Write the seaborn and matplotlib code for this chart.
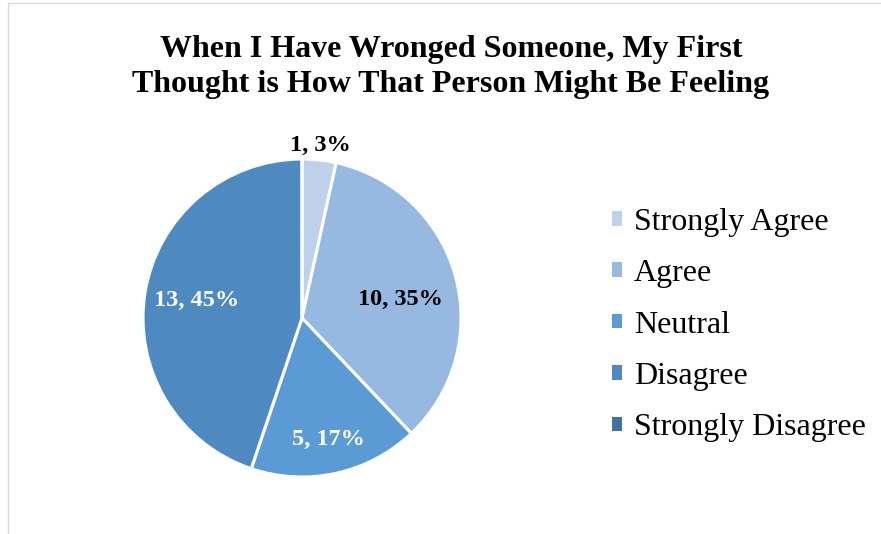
import numpy as np
import matplotlib
matplotlib.use("Agg")
import matplotlib.pyplot as plt
from matplotlib.patches import Patch, Rectangle
import seaborn as sns

# Survey responses
categories = ["Strongly Agree", "Agree", "Neutral", "Disagree", "Strongly Disagree"]
counts = [1, 10, 5, 13, 0]
title = "When I Have Wronged Someone, My First\nThought is How That Person Might Be Feeling"

sns.set_theme(style="white")
plt.rcParams["font.family"] = ["Liberation Serif", "DejaVu Serif"]
plt.rcParams["text.color"] = "black"

colors = ["#BDD1EA", "#97B8E0", "#5B9BD5", "#4E8ABF", "#41719C"]


def largest_remainder_percent(vals):
    vals = np.asarray(vals, dtype=float)
    raw = vals / vals.sum() * 100
    base = np.floor(raw).astype(int)
    short = 100 - base.sum()
    order = np.argsort(-(raw - base))
    for i in order[:short]:
        base[i] += 1
    return base


pcts = largest_remainder_percent(counts)

W, H = 881, 534
fig = plt.figure(figsize=(W / 100, H / 100), dpi=100)
fig.patch.set_facecolor("white")

# chart-area outline
fig.add_artist(Rectangle((8 / W, -0.1), 1.2, 1 - 3 / H + 0.1, transform=fig.transFigure,
                         fill=False, edgecolor="#D9D9D9", linewidth=1.0))

cx, cy, r = 302, 318, 159
ax = fig.add_axes([(cx - r) / W, (H - cy - r) / H, 2 * r / W, 2 * r / H])
wedges, _ = ax.pie(counts, colors=colors, startangle=90, counterclock=False, radius=1,
                   wedgeprops=dict(edgecolor="white", linewidth=2.2))
ax.set_xlim(-1, 1)
ax.set_ylim(-1, 1)
ax.set_aspect("equal")
ax.axis("off")

# data labels: "count, percent" (radius and angle nudge per slice)
label_radius = [1.09, 0.63, 0.78, 0.67, 0.7]
label_turn = [0, -5, 0, 0, 0]
label_color = ["black", "black", "white", "white", "white"]
for w, n, p, lr, lt, lc in zip(wedges, counts, pcts, label_radius, label_turn, label_color):
    if n == 0:
        continue
    ang = np.deg2rad((w.theta1 + w.theta2) / 2 + lt)
    ax.text(lr * np.cos(ang), lr * np.sin(ang), f"{n}, {p}%", ha="center", va="center",
            fontsize=17.5, fontweight="bold", color=lc)

fig.text(451 / W, 1 - 67 / H, title, ha="center", va="center", fontsize=23,
         fontweight="bold", linespacing=1.28)

handles = [Patch(facecolor=c, edgecolor="none") for c in colors]
fig.legend(handles, categories, loc="center left", bbox_to_anchor=(612 / W, 1 - 325 / H),
           frameon=False, fontsize=23, borderpad=0, borderaxespad=0,
           handlelength=0.32, handleheight=0.32, handletextpad=0.36, labelspacing=0.7)

fig.savefig("out.png", dpi=100, facecolor="white")
